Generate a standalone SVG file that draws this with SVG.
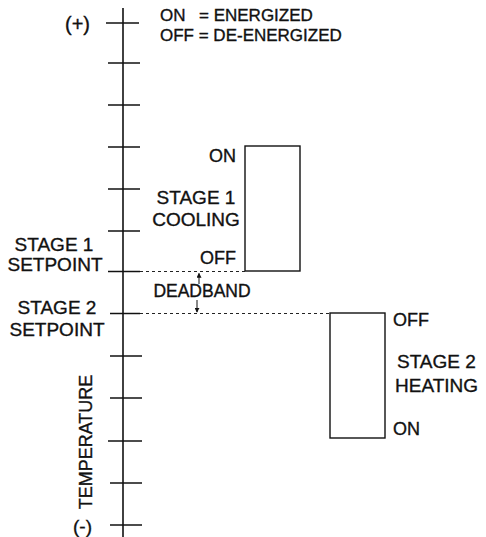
<svg xmlns="http://www.w3.org/2000/svg" width="486" height="537" viewBox="0 0 486 537">
  <defs>
    <style>
      text { font-family: "Liberation Sans", Arial, sans-serif; fill: #111; stroke: #111; stroke-width: 0.35; }
      .lbl { font-size: 19px; }
      .sm { font-size: 18px; }
      .leg { font-size: 17px; }
      .ax { stroke: #111; stroke-width: 1.6; fill: none; }
      .tick { stroke: #111; stroke-width: 1.5; }
      .box { stroke: #111; stroke-width: 1.4; fill: #fff; }
      .dash { stroke: #222; stroke-width: 1.1; stroke-dasharray: 3 3; fill: none; }
      .arr { stroke: #111; stroke-width: 1; fill: none; }
    </style>
    <marker id="ah" viewBox="0 0 6 6" refX="5" refY="3" markerWidth="5" markerHeight="5" orient="auto" markerUnits="userSpaceOnUse">
      <path d="M0,0 L6,3 L0,6 Z" fill="#111"/>
    </marker>
  </defs>
  <rect width="486" height="537" fill="#fff"/>

  <g id="axis">
    <line class="ax" x1="123" y1="8" x2="123" y2="537"/>
    <line class="tick" x1="106" y1="23" x2="139" y2="23"/>
    <line class="tick" x1="108" y1="63" x2="140" y2="63"/>
    <line class="tick" x1="108" y1="105" x2="140" y2="105"/>
    <line class="tick" x1="108" y1="147" x2="140" y2="147"/>
    <line class="tick" x1="108" y1="189" x2="140" y2="189"/>
    <line class="tick" x1="108" y1="231" x2="140" y2="231"/>
    <line class="tick" x1="108" y1="271.5" x2="140" y2="271.5"/>
    <line class="tick" x1="110" y1="313.5" x2="140" y2="313.5"/>
    <line class="tick" x1="110" y1="356" x2="142" y2="356"/>
    <line class="tick" x1="110" y1="398" x2="142" y2="398"/>
    <line class="tick" x1="108" y1="441" x2="142" y2="441"/>
    <line class="tick" x1="110" y1="483" x2="142" y2="483"/>
    <line class="tick" x1="110" y1="525" x2="142" y2="525"/>
    <text x="65" y="31" style="font-size:20px">(+)</text>
    <text x="73" y="533" style="font-size:19px">(-)</text>
    <text transform="translate(92,442) rotate(-90)" text-anchor="middle" style="font-size:18px">TEMPERATURE</text>
  </g>

  <g id="legend">
    <text class="leg" x="160" y="21">ON</text>
    <text class="leg" x="199" y="21">= ENERGIZED</text>
    <text class="leg" x="160" y="41">OFF = DE-ENERGIZED</text>
  </g>

  <g id="setpoint1">
    <text class="lbl" x="54" y="251" text-anchor="middle">STAGE 1</text>
    <text class="lbl" x="55" y="271" text-anchor="middle">SETPOINT</text>
  </g>

  <g id="setpoint2">
    <text class="lbl" x="57" y="314" text-anchor="middle">STAGE 2</text>
    <text class="lbl" x="57" y="336" text-anchor="middle">SETPOINT</text>
  </g>

  <g id="stage1-cooling">
    <rect class="box" x="245" y="146" width="55" height="125"/>
    <text class="sm" x="236" y="162" text-anchor="end">ON</text>
    <text class="lbl" x="196" y="204" text-anchor="middle">STAGE 1</text>
    <text class="lbl" x="196" y="226" text-anchor="middle">COOLING</text>
    <text class="sm" x="236" y="264" text-anchor="end">OFF</text>
  </g>

  <g id="stage2-heating">
    <rect class="box" x="330" y="313" width="55" height="125"/>
    <text class="sm" x="393" y="326">OFF</text>
    <text class="lbl" x="397" y="368">STAGE 2</text>
    <text class="lbl" x="395" y="392">HEATING</text>
    <text class="sm" x="393" y="435">ON</text>
  </g>

  <g id="deadband">
    <text x="202" y="297" text-anchor="middle" style="font-size:17.5px">DEADBAND</text>
  </g>

  <g id="connectors">
    <line class="dash" x1="140" y1="271.5" x2="245" y2="271.5"/>
    <line class="dash" x1="140" y1="313.5" x2="330" y2="313.5"/>
    <line class="arr" x1="199" y1="284" x2="199" y2="273.5" marker-end="url(#ah)"/>
    <line class="arr" x1="197" y1="300" x2="197" y2="312" marker-end="url(#ah)"/>
  </g>
</svg>
